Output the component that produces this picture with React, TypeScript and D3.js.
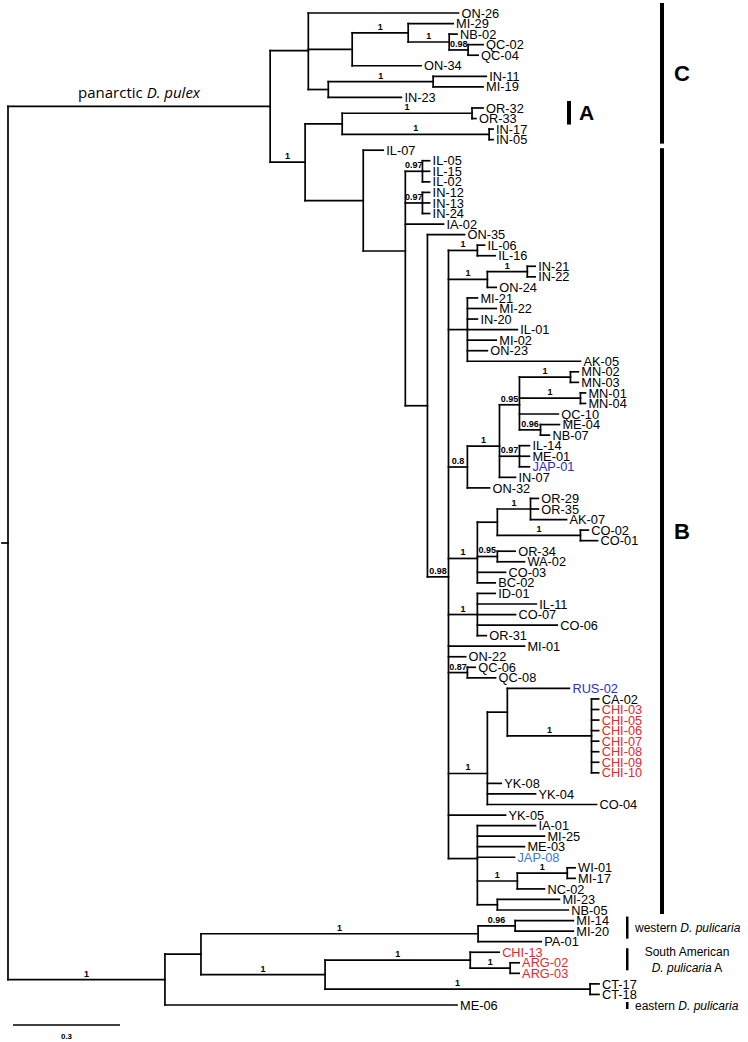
import React from 'react';
import * as d3 from 'd3';

// Phylogeny (Newick): branch lengths in substitutions/site, internal labels = posterior support
const NEWICK = `(
((ON-26:0.421,((MI-29:0.126,(NB-02:0.022,(QC-02:0.042,QC-04:0.028)0.98:0.053)1:0.115)1:0.157,ON-34:0.193):0.123,((IN-11:0.149,MI-19:0.140)1:0.294,IN-23:0.205):0.056):0.107,
(((OR-32:0.031,OR-33:0.011)1:0.364,(IN-17:0.011,IN-05:0.011)1:0.412):0.104,
(IL-07:0.056,((IL-05:0.020,IL-15:0.020,IL-02:0.020)0.97:0.048,(IN-12:0.020,IN-13:0.020,IN-24:0.020)0.97:0.048,IA-02:0.107,
(ON-35:0.104,(
(IL-06:0.020,IL-16:0.050)1:0.081,
((IN-21:0.022,IN-22:0.022)1:0.112,ON-24:0.025)1:0.109,
(MI-21:0.028,MI-22:0.081,IN-20:0.028,IL-01:0.140,MI-02:0.081,ON-23:0.056,AK-05:0.317):0.053,
((((MN-02:0.022,MN-03:0.022)1:0.143,(MN-01:0.014,MN-04:0.014)1:0.171,QC-10:0.109,(ME-04:0.053,NB-07:0.025)0.96:0.059)0.95:0.056,(IL-14:0.028,ME-01:0.028,JAP-01:0.028)0.97:0.056,IN-07:0.045)1:0.090,ON-32:0.062)0.8:0.053,
(((OR-29:0.022,OR-35:0.022,AK-07:0.101)1:0.093,(CO-02:0.022,CO-01:0.048)1:0.233):0.056,(OR-34:0.050,WA-02:0.076)0.95:0.056,CO-03:0.079,BC-02:0.050)1:0.081,
(ID-01:0.050,IL-11:0.165,CO-07:0.107,CO-06:0.224,OR-31:0.025)1:0.081,
MI-01:0.213,
ON-22:0.048,
(QC-06:0.022,QC-08:0.079)0.87:0.053,
((RUS-02:0.174,(CA-02:0.020,CHI-03:0.020,CHI-05:0.020,CHI-06:0.020,CHI-07:0.020,CHI-08:0.020,CHI-09:0.020,CHI-10:0.020)1:0.236):0.056,YK-08:0.039,YK-04:0.135,CO-04:0.306)1:0.109,
YK-05:0.160,
(IA-01:0.163,MI-25:0.188,ME-03:0.132,JAP-08:0.104,((WI-01:0.022,MI-17:0.022)1:0.140,NC-02:0.076)1:0.112,(MI-23:0.174,NB-05:0.199):0.056):0.081
)0.98:0.059):0.062):0.118):0.163)1:0.098):0.735,
((((MI-14:0.163,MI-20:0.163)0.96:0.104,PA-01:0.177)1:0.777,((CHI-13:0.081,(ARG-02:0.025,ARG-03:0.025)1:0.112)1:0.407,(CT-17:0.025,CT-18:0.025)1:0.743)1:0.348):0.101,ME-06:0.819)1:0.440
);`;

const RED_TAXA = ['CHI-03', 'CHI-05', 'CHI-06', 'CHI-07', 'CHI-08', 'CHI-09', 'CHI-10', 'CHI-13', 'ARG-02', 'ARG-03'];
const BLUE_TAXA = ['RUS-02', 'JAP-01'];
const LIGHT_BLUE_TAXA = ['JAP-08'];
const SCALE_BAR_VALUE = 0.3;

// Clade annotations: [label, first taxon, last taxon]
const MAJOR_CLADES: [string, string, string][] = [
  ['C', 'ON-26', 'IN-05'],
  ['B', 'IL-07', 'NB-05'],
];
const MINOR_CLADES: [string, string, string][] = [['A', 'OR-32', 'OR-33']];
const PULICARIA_GROUPS: [string[], string, string][] = [
  [['western ', 'D. pulicaria'], 'MI-14', 'PA-01'],
  [['South American', 'D. pulicaria A'], 'CHI-13', 'ARG-03'],
  [['eastern ', 'D. pulicaria'], 'ME-06', 'ME-06'],
];

type TNode = { name: string; length: number; support: string; children: TNode[] };

function parseNewick(src: string): TNode {
  const s = src.replace(/\s+/g, '');
  let i = 0;
  function parseNode(): TNode {
    const node: TNode = { name: '', length: 0, support: '', children: [] };
    if (s[i] === '(') {
      i++;
      node.children.push(parseNode());
      while (s[i] === ',') {
        i++;
        node.children.push(parseNode());
      }
      i++;
    }
    let label = '';
    while (i < s.length && !',):;'.includes(s[i])) label += s[i++];
    if (node.children.length) node.support = label;
    else node.name = label;
    if (s[i] === ':') {
      i++;
      let num = '';
      while (i < s.length && !',);'.includes(s[i])) num += s[i++];
      node.length = +num;
    }
    return node;
  }
  return parseNode();
}

const W = 748;
const H = 1042;
const FONT = '"Liberation Sans", Arial, Helvetica, sans-serif';

export default function App() {
  const data = parseNewick(NEWICK);
  const root = d3.hierarchy<TNode>(data, (d) => (d.children.length ? d.children : null));
  const dist = new Map<any, number>();
  root.eachBefore((n: any) => {
    dist.set(n, n.parent ? dist.get(n.parent)! + n.data.length : 0);
  });
  const leaves = root.leaves();
  const x = d3.scaleLinear().domain([0, 1]).range([8, 8 + 356.67]);
  const y = d3.scaleLinear().domain([0, leaves.length - 1]).range([13, 1005]);
  const ypos = new Map<any, number>();
  leaves.forEach((l, i) => ypos.set(l, y(i)));
  root.eachAfter((n: any) => {
    if (n.children) ypos.set(n, d3.mean(n.children, (c: any) => ypos.get(c)!)!);
  });
  const byName = new Map<string, any>();
  leaves.forEach((l) => byName.set(l.data.name, l));
  const ly = (name: string) => ypos.get(byName.get(name))!;

  const nodes = root.descendants();
  const lines: React.ReactNode[] = [];
  const texts: React.ReactNode[] = [];
  nodes.forEach((n: any, k) => {
    const nx = x(dist.get(n)!);
    const ny = ypos.get(n)!;
    const px = n.parent ? x(dist.get(n.parent)!) : nx - 6;
    lines.push(<line key={'h' + k} x1={px} x2={nx} y1={ny} y2={ny} />);
    if (n.children) {
      const ys = n.children.map((c: any) => ypos.get(c)!);
      lines.push(<line key={'v' + k} x1={nx} x2={nx} y1={d3.min(ys)!} y2={d3.max(ys)!} />);
      if (n.data.support && n.parent) {
        texts.push(
          <text key={'s' + k} x={(px + nx) / 2} y={ny - 3} textAnchor="middle" fontSize={9} fontWeight="bold" fontFamily={FONT}>
            {n.data.support}
          </text>
        );
      }
    } else {
      const nm = n.data.name;
      const fill = RED_TAXA.includes(nm) ? '#e8282b' : BLUE_TAXA.includes(nm) ? '#2c2cd2' : LIGHT_BLUE_TAXA.includes(nm) ? '#3b78de' : '#000';
      texts.push(
        <text key={'l' + k} x={nx + 3} y={ny} dy="0.36em" fontSize={12.8} fontFamily={FONT} fill={fill}>
          {nm}
        </text>
      );
    }
  });

  const pulexNode: any = root.children![0];
  const pulexY = ypos.get(pulexNode)!;
  const pulexX = x(dist.get(pulexNode)!);
  const rootX = x(0);

  const scaleY = 1025;

  return (
    <svg width={W} height={H} style={{ position: 'absolute', left: 0, top: 0, background: '#fff' }}>
      <rect width={W} height={H} fill="#fff" />
      <g stroke="#000" strokeWidth={1.7} strokeLinecap="square">
        {lines}
      </g>
      {texts}
      <text x={(rootX + pulexX) / 2} y={pulexY - 8} textAnchor="middle" fontSize={15} fontFamily='"Open Sans", sans-serif'>
        panarctic <tspan fontStyle="italic">D. pulex</tspan>
      </text>
      {MAJOR_CLADES.map(([lab, a, b], i) => {
        const y1 = lab === 'C' ? ly(a) - 10 : ly(a) - 2;
        const y2 = ly(b) + 4;
        return (
          <g key={'mc' + i}>
            <rect x={660} y={y1} width={4} height={y2 - y1} fill="#000" />
            <text x={674} y={(y1 + y2) / 2} dy="0.36em" fontSize={22} fontWeight="bold" fontFamily={FONT}>
              {lab}
            </text>
          </g>
        );
      })}
      {MINOR_CLADES.map(([lab, a, b], i) => {
        const y1 = ly(a) - 7;
        const y2 = ly(b) + 6;
        return (
          <g key={'mi' + i}>
            <rect x={567} y={y1} width={4} height={y2 - y1} fill="#000" />
            <text x={579} y={(y1 + y2) / 2} dy="0.36em" fontSize={21} fontWeight="bold" fontFamily={FONT}>
              {lab}
            </text>
          </g>
        );
      })}
      {PULICARIA_GROUPS.map(([lab, a, b], i) => {
        const isSingle = a === b;
        const y1 = isSingle ? ly(a) - 3 : ly(a) - 4;
        const y2 = isSingle ? ly(b) + 4 : ly(b) - 3;
        const mid = (y1 + y2) / 2;
        return (
          <g key={'pg' + i} fontFamily={FONT} fontSize={12}>
            <rect x={626} y={y1} width={2.5} height={y2 - y1} fill="#000" />
            {lab[0] === 'South American' ? (
              <>
                <text x={687} y={mid - 8} dy="0.36em" textAnchor="middle">South American</text>
                <text x={687} y={mid + 8} dy="0.36em" textAnchor="middle">
                  <tspan fontStyle="italic">D. pulicaria</tspan> A
                </text>
              </>
            ) : (
              <text x={635} y={mid} dy="0.36em">
                {lab[0]}
                <tspan fontStyle="italic">{lab[1]}</tspan>
              </text>
            )}
          </g>
        );
      })}
      <line x1={x(0) + 5} x2={x(SCALE_BAR_VALUE) + 5} y1={scaleY} y2={scaleY} stroke="#000" strokeWidth={1.6} />
      <text x={(x(0) + x(SCALE_BAR_VALUE)) / 2 + 5} y={scaleY + 14} textAnchor="middle" fontSize={8} fontWeight="bold" fontFamily={FONT}>
        {SCALE_BAR_VALUE}
      </text>
    </svg>
  );
}
